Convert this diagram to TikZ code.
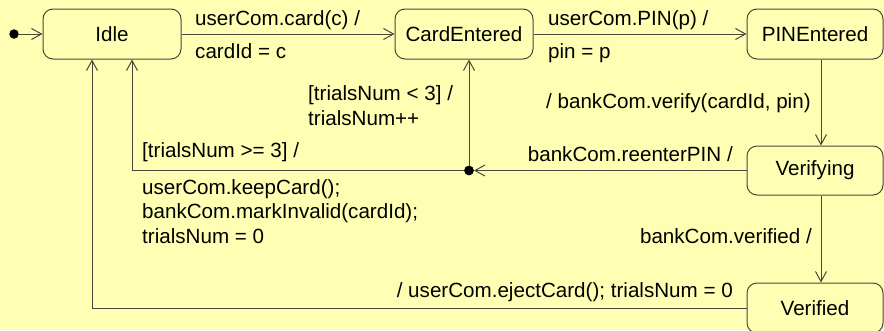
\documentclass[tikz,border=0pt]{standalone}
\usepackage{fontspec}
\setmainfont{Liberation Sans}
\usetikzlibrary{arrows.meta}
\definecolor{paper}{HTML}{FFFFB4}
\definecolor{ink}{RGB}{72,72,58}
\tikzset{
  every node/.style={font=\fontsize{20.6}{24.5}\selectfont},
  statebox/.style={draw=ink, line width=1pt, fill=paper, rounded corners=10pt,
    minimum height=50pt, inner sep=0pt},
  arr/.style={draw=ink, line width=1pt, -{Straight Barb[length=10pt,width=11pt]}},
  lbl/.style={inner sep=0pt, text=black},
  dot/.style={circle, fill=black, inner sep=0pt, minimum size=9.5pt},
}
\begin{document}
\begin{tikzpicture}[x=1pt, y=-1pt]
  \fill[paper] (0,0) rectangle (884,330);
  \useasboundingbox (0,0) rectangle (884,330);
  \clip (0,0) rectangle (884,330);

  % states
  \node[statebox, minimum width=138pt] (idle) at (112,34) {Idle};
  \node[statebox, minimum width=138pt] (card) at (464,34) {CardEntered};
  \node[statebox, minimum width=136pt] (pin) at (815,34) {PINEntered};
  \node[statebox, minimum width=136pt, minimum height=49pt] (verifying) at (815,170.5) {Verifying};
  \node[statebox, minimum width=136pt] (verified) at (815,308) {Verified};

  % pseudo states
  \node[dot] (init) at (14,34) {};
  \node[dot] (junction) at (469,170.5) {};
  \coordinate (col) at (821,0);

  % transitions
  \draw[arr] (init) -- (idle);
  \draw[arr] (idle) -- (card);
  \draw[arr] (card) -- (pin);
  \draw[arr] (pin.south -| col) -- (verifying.north -| col);
  \draw[arr] (verifying) -- (junction);
  \draw[arr] (junction.center) -- (card.south -| junction);
  \draw[arr] (junction.center) -| ([xshift=20pt]idle.south);
  \draw[arr] (verifying.south -| col) -- (verified.north -| col);
  \draw[arr] (verified.west) -| ([xshift=-20pt]idle.south);
  \fill (junction) circle (4.75pt);

  % labels (multi-line ones are placed by the baseline of their last line)
  \node[lbl, anchor=base west] (l1a) at (195,25) {userCom.card(c) /};
  \node[lbl, anchor=base west] (l1b) at (195,58) {cardId = c};
  \node[lbl, anchor=base west] (l2a) at (548,25) {userCom.PIN(p) /};
  \node[lbl, anchor=base west] (l2b) at (548,58) {pin = p};
  \node[lbl, anchor=base west] (l3) at (546,108) {/ bankCom.verify(cardId, pin)};
  \node[lbl, anchor=base east] (l4) at (733,161) {bankCom.reenterPIN /};
  \node[lbl, anchor=base west, align=left] (l5) at (308,125) {[trialsNum < 3] /\\trialsNum++};
  \node[lbl, anchor=base west] (l6a) at (142,157) {[trialsNum >= 3] /};
  \node[lbl, anchor=base west, align=left] (l6b) at (142,243)
    {userCom.keepCard();\\bankCom.markInvalid(cardId);\\trialsNum = 0};
  \node[lbl, anchor=base east] (l7) at (812,243) {bankCom.verified /};
  \node[lbl, anchor=base east] (l8) at (733,297) {/ userCom.ejectCard(); trialsNum = 0};
\end{tikzpicture}
\end{document}
